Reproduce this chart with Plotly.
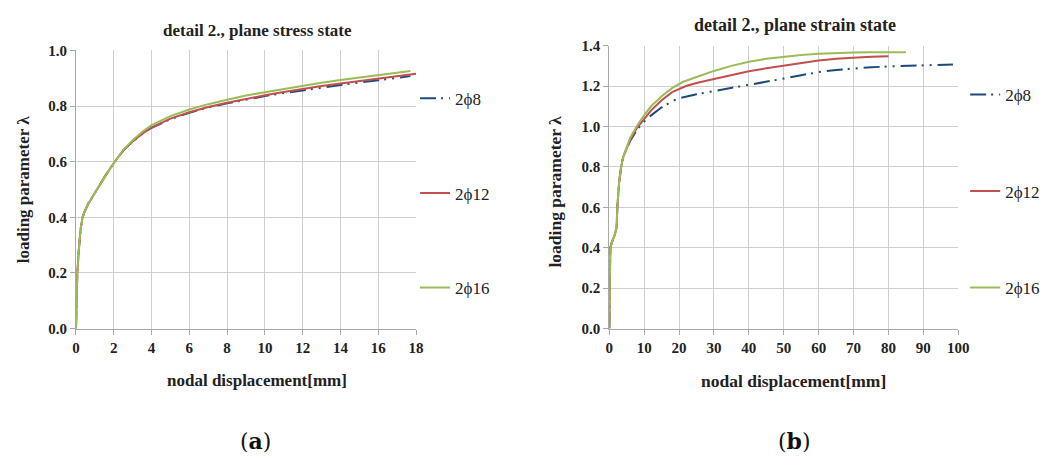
import plotly.graph_objects as go

# ---- plane stress state (panel a) ----
stress_x_8 = [0, 0.07, 0.17, 0.25, 0.35, 0.45, 0.66, 1.1, 1.56, 2.05, 2.5, 3.0, 3.5, 4.0, 5.0, 6.0,
              7.0, 8.0, 9.0, 10.0, 11.0, 12.0, 13.0, 14.0, 15.0, 16.0, 17.0, 17.7]
stress_y_8 = [0, 0.20, 0.30, 0.36, 0.40, 0.42, 0.45, 0.50, 0.55, 0.60, 0.64, 0.673, 0.70, 0.722, 0.753, 0.776,
              0.795, 0.810, 0.824, 0.836, 0.847, 0.857, 0.867, 0.876, 0.885, 0.893, 0.902, 0.908]

stress_x_12 = [0, 0.07, 0.17, 0.25, 0.35, 0.45, 0.66, 1.1, 1.56, 2.05, 2.5, 3.0, 3.5, 4.0, 5.0, 6.0,
               7.0, 8.0, 9.0, 10.0, 11.0, 12.0, 13.0, 14.0, 15.0, 16.0, 17.0, 18.0]
stress_y_12 = [0, 0.20, 0.30, 0.36, 0.40, 0.42, 0.45, 0.50, 0.55, 0.60, 0.64, 0.673, 0.70, 0.723, 0.755, 0.778,
               0.797, 0.812, 0.826, 0.839, 0.851, 0.862, 0.872, 0.881, 0.890, 0.899, 0.908, 0.916]

stress_x_16 = [0, 0.07, 0.17, 0.25, 0.35, 0.45, 0.66, 1.1, 1.56, 2.05, 2.5, 3.0, 3.5, 4.0, 5.0, 6.0,
               7.0, 8.0, 9.0, 10.0, 11.0, 12.0, 13.0, 14.0, 15.0, 16.0, 17.0, 17.7]
stress_y_16 = [0, 0.20, 0.30, 0.36, 0.40, 0.42, 0.45, 0.50, 0.55, 0.60, 0.642, 0.677, 0.707, 0.732, 0.764, 0.788,
               0.807, 0.823, 0.838, 0.850, 0.862, 0.873, 0.884, 0.894, 0.903, 0.912, 0.920, 0.926]

# ---- plane strain state (panel b) ----
strain_x_8 = [0, 0.3, 0.8, 1.5, 2.1, 2.3, 2.8, 3.4, 4.0, 4.8, 6, 8, 10, 12, 15, 18, 20, 25, 30, 35,
              40, 45, 50, 55, 60, 65, 70, 75, 80, 85, 90, 95, 98.5]
strain_y_8 = [0, 0.40, 0.43, 0.46, 0.50, 0.60, 0.72, 0.80, 0.85, 0.885, 0.93, 0.985, 1.025, 1.055, 1.095,
              1.125, 1.14, 1.16, 1.175, 1.19, 1.205, 1.222, 1.237, 1.254, 1.269, 1.28, 1.288, 1.293,
              1.297, 1.30, 1.303, 1.305, 1.307]

strain_x_12 = [0, 0.3, 0.8, 1.5, 2.1, 2.3, 2.8, 3.4, 4.0, 4.8, 6, 8, 10, 12, 15, 18, 22, 25, 30, 35,
               40, 45, 50, 55, 60, 65, 70, 75, 80]
strain_y_12 = [0, 0.40, 0.43, 0.46, 0.50, 0.60, 0.72, 0.80, 0.85, 0.885, 0.935, 0.995, 1.04, 1.08, 1.13,
               1.17, 1.20, 1.215, 1.235, 1.255, 1.273, 1.288, 1.302, 1.315, 1.327, 1.335, 1.341, 1.345, 1.347]

strain_x_16 = [0, 0.3, 0.8, 1.5, 2.1, 2.3, 2.8, 3.4, 4.0, 4.8, 6, 8, 10, 12, 15, 18, 21, 25, 30, 35,
               40, 45, 50, 55, 60, 65, 70, 75, 80, 85]
strain_y_16 = [0, 0.40, 0.43, 0.46, 0.50, 0.60, 0.72, 0.80, 0.85, 0.89, 0.945, 1.005, 1.056, 1.10, 1.15,
               1.19, 1.22, 1.245, 1.275, 1.30, 1.32, 1.335, 1.346, 1.354, 1.36, 1.364, 1.366, 1.367,
               1.368, 1.368]

series_names = ["2\u03d58", "2\u03d512", "2\u03d516"]
series_colors = ["#1f497d", "#c0504d", "#9bbb59"]
series_dash = ["16px,5px,2px,6px,2px,6px", "solid", "solid"]

stress_series = [(stress_x_8, stress_y_8), (stress_x_12, stress_y_12), (stress_x_16, stress_y_16)]
strain_series = [(strain_x_8, strain_y_8), (strain_x_12, strain_y_12), (strain_x_16, strain_y_16)]

W, H = 1056, 464
SERIF = "Liberation Serif"

fig = go.Figure()

for i, (xs, ys) in enumerate(stress_series):
    fig.add_trace(go.Scatter(
        x=xs, y=ys, mode="lines", name=series_names[i],
        line=dict(color=series_colors[i], width=2, dash=series_dash[i]),
        xaxis="x", yaxis="y", legend="legend" if i == 0 else f"legend{i + 1}",
    ))

for i, (xs, ys) in enumerate(strain_series):
    fig.add_trace(go.Scatter(
        x=xs, y=ys, mode="lines", name=series_names[i],
        line=dict(color=series_colors[i], width=2, dash=series_dash[i]),
        xaxis="x2", yaxis="y2", legend=f"legend{i + 4}",
    ))

grid = "#cfcfcf"
axis_line = "#a8a8a8"
tick_font = dict(family=SERIF, size=15, color="#222222", weight="bold")

common_x = dict(showgrid=True, gridcolor=grid, gridwidth=1, showline=True, linecolor=axis_line,
                ticks="outside", ticklen=5, tickcolor=axis_line, tickfont=tick_font, zeroline=False)
common_y = dict(showgrid=True, gridcolor=grid, gridwidth=1, showline=True, linecolor=axis_line,
                ticks="outside", ticklen=5, tickcolor=axis_line, tickfont=tick_font, zeroline=False,
                tickformat=".1f", dtick=0.2)


def px_x(p):
    return p / W


def px_y(p):
    return 1 - p / H


fig.update_layout(
    width=W, height=H,
    margin=dict(l=0, r=0, t=0, b=0),
    paper_bgcolor="white", plot_bgcolor="white",
    font=dict(family=SERIF, color="#222222"),
    xaxis=dict(common_x, domain=[px_x(73), px_x(418)], range=[0, 18], dtick=2, anchor="y"),
    yaxis=dict(common_y, domain=[px_y(332), px_y(44)], range=[0, 1.0], anchor="x"),
    xaxis2=dict(common_x, domain=[px_x(614), px_x(968)], range=[0, 100], dtick=10, anchor="y2"),
    yaxis2=dict(common_y, domain=[px_y(332), px_y(39)], range=[0, 1.4], anchor="x2"),
    showlegend=True,
)

legend_font = dict(family=SERIF, size=17, color="#222222")
legend_rows_left = [94, 192, 290]
legend_rows_right = [90, 190, 290]
for i in range(6):
    key = "legend" if i == 0 else f"legend{i + 1}"
    row = legend_rows_left[i] if i < 3 else legend_rows_right[i - 3]
    x0 = 417 if i < 3 else 975
    fig.update_layout({key: dict(x=px_x(x0), y=px_y(row), xanchor="left", yanchor="middle",
                                 font=legend_font, bgcolor="rgba(0,0,0,0)", itemwidth=30,
                                 tracegroupgap=0)})

ann = []
# panel titles
ann.append(dict(text="<b>detail 2., plane stress state</b>", x=px_x(257), y=px_y(23), size=17))
ann.append(dict(text="<b>detail 2., plane strain state</b>", x=px_x(802), y=px_y(18), size=18))
# x-axis titles
ann.append(dict(text="<b>nodal displacement[mm]</b>", x=px_x(257), y=px_y(386), size=17))
ann.append(dict(text="<b>nodal displacement[mm]</b>", x=px_x(801), y=px_y(386), size=17.5))
# y-axis titles
ann.append(dict(text="<b>loading parameter \u03bb</b>", x=px_x(20), y=px_y(188), size=17, textangle=-90))
ann.append(dict(text="<b>loading parameter \u03bb</b>", x=px_x(559), y=px_y(190), size=17.5, textangle=-90))
annotations = []
for a in ann:
    size = a.pop("size")
    a.update(xref="paper", yref="paper", xanchor="center", yanchor="middle", showarrow=False,
             font=dict(family=SERIF, size=size, color="#222222"))
    annotations.append(a)
# panel labels
for lbl, cx in (("a", 255), ("b", 802)):
    annotations.append(dict(text=f"(<b>{lbl}</b>)", x=px_x(cx), y=px_y(448), xref="paper", yref="paper",
                            xanchor="center", yanchor="middle", showarrow=False,
                            font=dict(family="DejaVu Serif", size=22, color="#111111")))
fig.update_layout(annotations=annotations)

fig.write_html("out.html")
